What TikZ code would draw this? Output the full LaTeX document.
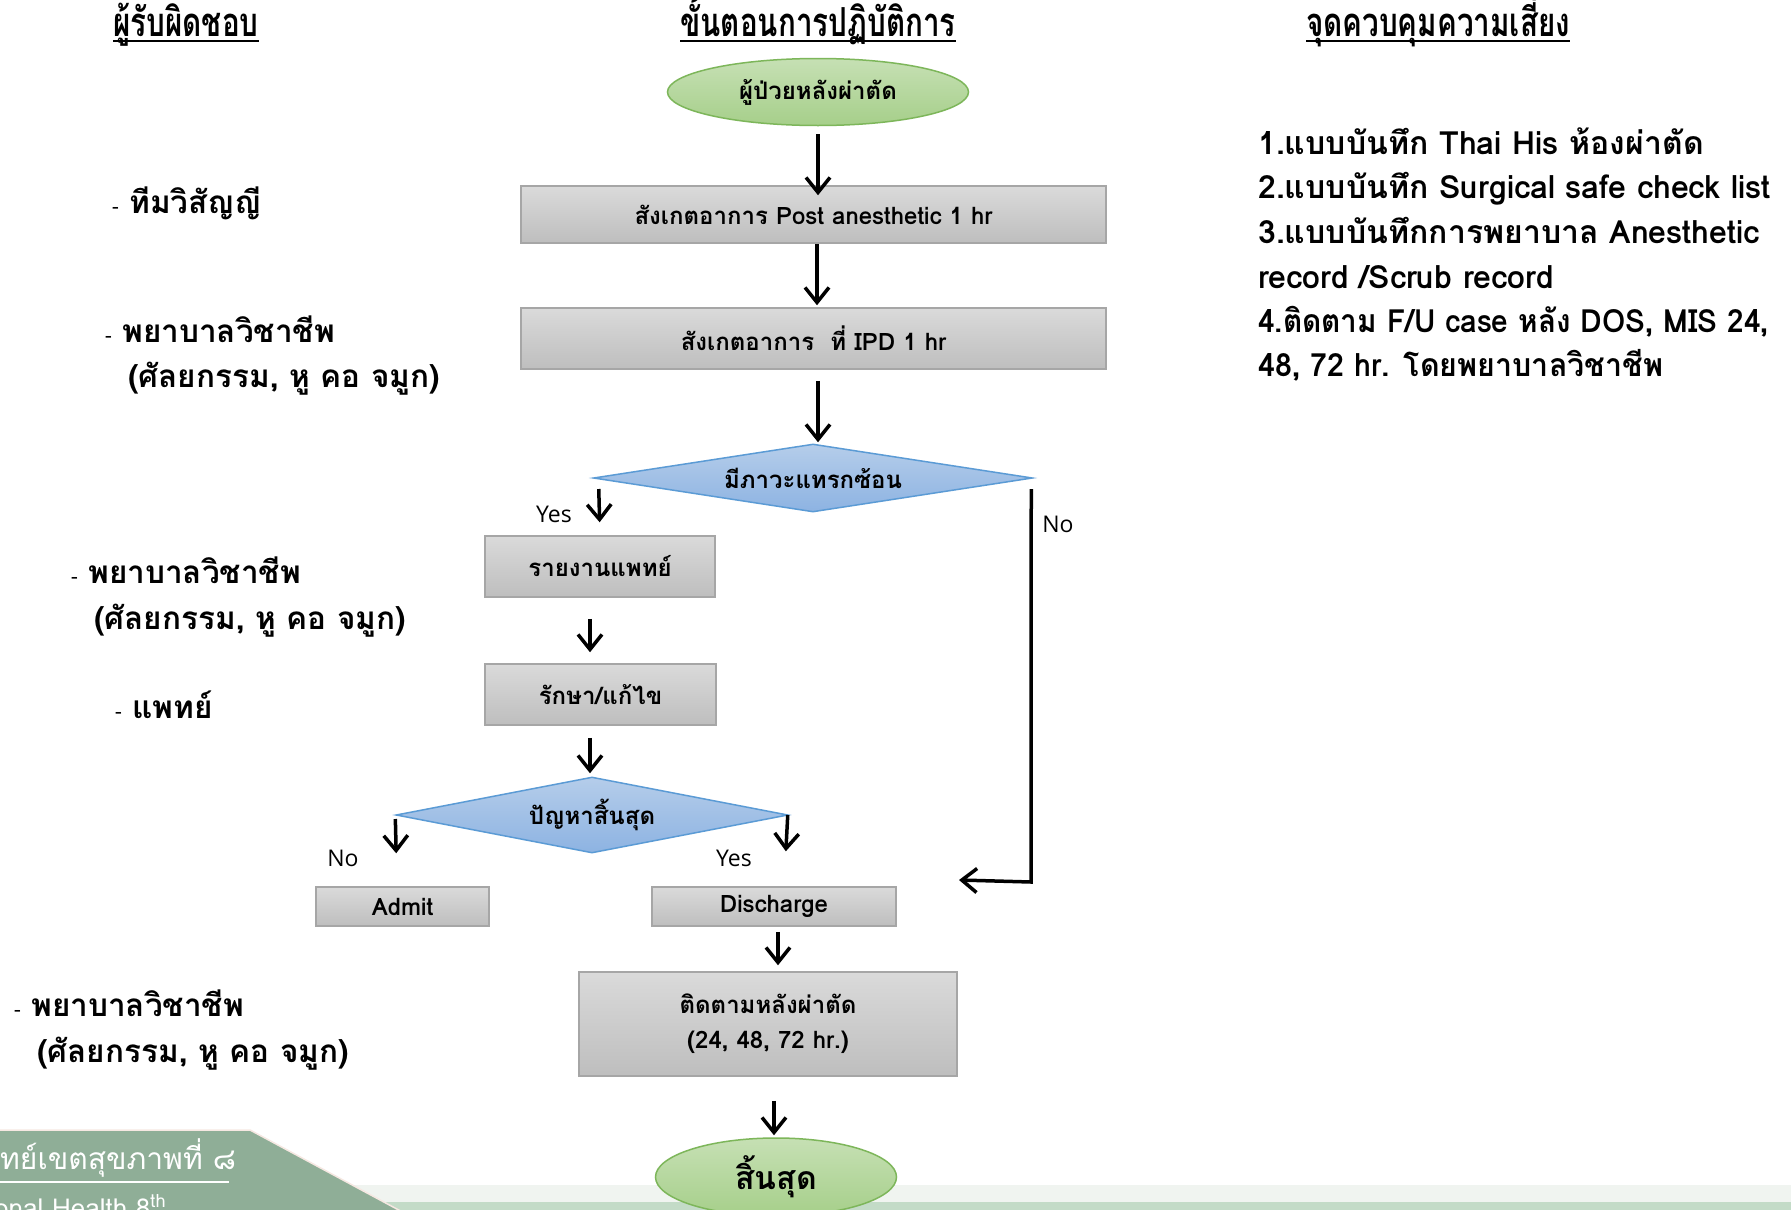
\documentclass[tikz,border=0pt]{standalone}
\usepackage{fontspec}
\setmainfont[Script=Thai]{Loma}
\newfontfamily\hdrfont[Script=Thai,FakeStretch=0.74]{Loma}
\newfontfamily\latfont{Open Sans}
\usetikzlibrary{shapes.geometric,arrows.meta}
\definecolor{boxtop}{HTML}{DADADA}
\definecolor{boxbot}{HTML}{BEBEBE}
\definecolor{boxline}{HTML}{A6A6A6}
\definecolor{elltop}{HTML}{C6E0B4}
\definecolor{ellbot}{HTML}{A6CF8A}
\definecolor{ellline}{HTML}{7DB65A}
\definecolor{dectop}{HTML}{B5CDEA}
\definecolor{decbot}{HTML}{8DB3E2}
\definecolor{decline}{HTML}{5B9BD5}
\definecolor{footgreen}{HTML}{8FAE97}
\definecolor{footedge}{HTML}{F6E8E2}
\definecolor{bandlight}{HTML}{F0F4F0}
\definecolor{banddark}{HTML}{C3DBC7}
\newcommand\ndfont{\fontsize{24}{35}\selectfont\bfseries}
\newcommand\sdfont{\fontsize{31.5}{36}\selectfont\bfseries}
\newcommand\rcfont{\fontsize{32}{36}\selectfont\bfseries}
\newcommand\lbfont{\latfont\fontsize{23}{28}\selectfont}
\newcommand\hdfont{\hdrfont\fontsize{40}{46}\selectfont\bfseries}
\newcommand\dsh{{\mdseries\fontsize{20}{24}\selectfont -}\,\,}
\tikzset{
  proc/.style={rectangle, draw=boxline, line width=1.5pt, top color=boxtop, bottom color=boxbot, inner sep=0pt, font=\ndfont, align=center},
  term/.style={ellipse, draw=ellline, line width=1.5pt, top color=elltop, bottom color=ellbot, inner sep=0pt, font=\ndfont},
  dec/.style={diamond, draw=decline, line width=1.5pt, top color=dectop, bottom color=decbot, inner sep=0pt, shape aspect=6, font=\ndfont},
  arr/.style={line width=3.5pt, -{Straight Barb[length=15pt,width=24pt]}},
  lbl/.style={font=\lbfont, inner sep=0pt},
  side/.style={anchor=base west, inner sep=0pt, font=\sdfont},
  risk/.style={anchor=base west, inner sep=0pt, font=\rcfont},
  hdr/.style={anchor=base, inner sep=0pt, font=\hdfont},
}
\begin{document}
\begin{tikzpicture}[x=1pt,y=-1pt]
\useasboundingbox (0,0) rectangle (1791,1210);
\fill[white] (0,0) rectangle (1791,1210);
% bottom bands
\fill[bandlight] (0,1185) rectangle (1791,1210);
\fill[banddark] (0,1202) rectangle (1791,1210);
\begin{scope}
\clip (0,0) rectangle (1791,1210);
\draw[fill=footgreen, draw=footedge, line width=1.5pt] (-2,1130) -- (250,1130) -- (408,1215) -- (-2,1215) -- cycle;
\node[anchor=base west, inner sep=0pt, text=white, font=\fontsize{30}{36}\selectfont] (ft1) at (0,1169) {ทย์เขตสุขภาพที่ ๘};
\draw[white, line width=1.5pt] (0,1182) -- (229,1182);
\node[anchor=base west, inner sep=0pt, text=white, font=\fontsize{26}{30}\selectfont] (ft2) at (-6,1217) {onal Health 8\textsuperscript{th}};
\end{scope}

% headers
\node[hdr] (h1) at (186,36) {ผู้รับผิดชอบ};
\node[hdr] (h2) at (818,36) {ขั้นตอนการปฏิบัติการ};
\node[hdr] (h3) at (1438,36) {จุดควบคุมความเสี่ยง};
\foreach \h in {h1,h2,h3}{
  \draw[line width=2.5pt] ([yshift=-5pt]\h.base west) -- ([yshift=-5pt]\h.base east);
}

% flow nodes
\node[term, minimum width=301pt, minimum height=67pt] (start) at (818,92) {ผู้ป่วยหลังผ่าตัด};
\node[proc, minimum width=585pt, minimum height=57pt] (b1) at (813.5,214.5) {สังเกตอาการ Post anesthetic 1 hr};
\node[proc, minimum width=585pt, minimum height=61pt] (b2) at (813.5,338.5) {สังเกตอาการ\ \ ที่ IPD 1 hr};
\node[dec, minimum width=439pt, minimum height=68pt] (d1) at (813,478) {มีภาวะแทรกซ้อน};
\node[proc, minimum width=230pt, minimum height=61pt] (r1) at (600,566.5) {รายงานแพทย์};
\node[proc, minimum width=231pt, minimum height=61pt] (r2) at (600.5,694.5) {รักษา/แก้ไข};
\node[dec, minimum width=392pt, minimum height=76pt] (d2) at (592,815) {ปัญหาสิ้นสุด};
\node[proc, minimum width=173pt, minimum height=39pt] (adm) at (402.5,906.5) {Admit};
\node[proc, minimum width=244pt, minimum height=39pt] (dis) at (774,906.5) {Discharge};
\node[proc, minimum width=378pt, minimum height=104pt] (fol) at (768,1024) {ติดตามหลังผ่าตัด\\(24, 48, 72 hr.)};
\node[term, minimum width=241pt, minimum height=78pt, font=\fontsize{32}{36}\selectfont\bfseries] (end) at (776,1177) {สิ้นสุด};

% connectors
\draw[arr, shorten <=8pt, shorten >=-10pt] (start.south) -- ([xshift=4.5pt]b1.north);
\draw[arr, shorten >=2pt] ([xshift=3.5pt]b1.south) -- ([xshift=3.5pt]b2.north);
\draw[arr, shorten <=11pt, shorten >=1pt] ([xshift=4.5pt]b2.south) -- ([xshift=5pt]d1.north);
\draw[arr, shorten >=13pt] ([shift={(6pt,-11pt)}]d1.west) -- (r1.north);
\draw[arr, shorten <=21pt, shorten >=11pt] ([xshift=-10pt]r1.south) -- ([xshift=-10.5pt]r2.north);
\draw[arr, shorten <=12pt, shorten >=3pt] ([xshift=-10.5pt]r2.south) -- ([xshift=-2pt]d2.north);
\draw[arr, shorten <=4pt, shorten >=33pt] (d2.west) -- ([xshift=-5.5pt]adm.north);
\draw[arr, shorten <=0pt, shorten >=35pt] ([xshift=-1pt]d2.east) -- ([xshift=10pt]dis.north);
\draw[arr, shorten <=5pt, shorten >=6pt] ([xshift=4pt]dis.south) -- ([xshift=10pt]fol.north);
\draw[arr, shorten <=24pt, shorten >=2pt] ([xshift=6pt]fol.south) -- ([xshift=-2pt]end.north);
\coordinate (noEnd) at (959,880);
\draw[arr] ([shift={(-2pt,-11pt)}]d1.east) -- (1031,882) -- (noEnd);

% labels
\node[lbl] (yes1) at (554,514) {Yes};
\node[lbl] (no1) at (1058,524) {No};
\node[lbl] (no2) at (343,858) {No};
\node[lbl] (yes2) at (734,858) {Yes};

% left column
\node[side] (s1) at (112,213) {\dsh ทีมวิสัญญี};
\node[side] (s2) at (105,342) {\dsh พยาบาลวิชาชีพ};
\node[side] (s3) at (128,387) {(ศัลยกรรม, หู คอ จมูก)};
\node[side] (s4) at (71,583) {\dsh พยาบาลวิชาชีพ};
\node[side] (s5) at (94,629) {(ศัลยกรรม, หู คอ จมูก)};
\node[side] (s6) at (115,718) {\dsh แพทย์};
\node[side] (s7) at (14,1016) {\dsh พยาบาลวิชาชีพ};
\node[side] (s8) at (37,1062) {(ศัลยกรรม, หู คอ จมูก)};

% right column
\node[risk] (c1) at (1258,154) {1.แบบบันทึก Thai His ห้องผ่าตัด};
\node[risk] (c2) at (1258,198) {2.แบบบันทึก Surgical safe check list};
\node[risk] (c3) at (1258,243) {3.แบบบันทึกการพยาบาล Anesthetic};
\node[risk] (c4) at (1258,288) {record /Scrub record};
\node[risk] (c5) at (1258,332) {\scalebox{0.93}[1]{4.ติดตาม F/U case หลัง DOS, MIS 24,}};
\node[risk] (c6) at (1258,376) {\scalebox{0.95}[1]{48, 72 hr. โดยพยาบาลวิชาชีพ}};
\end{tikzpicture}
\end{document}
